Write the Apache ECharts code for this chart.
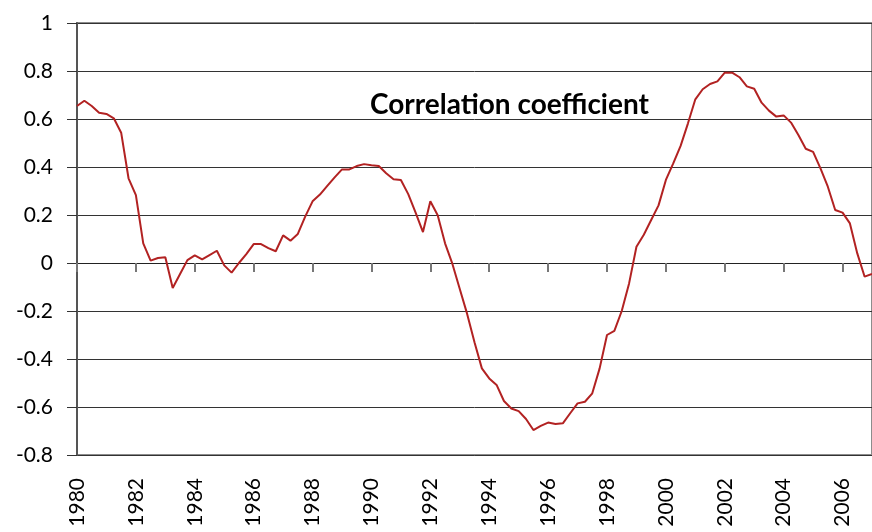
<!DOCTYPE html>
<html lang="en">
  <head>
    <meta charset="UTF-8" />
    <title>Correlation coefficient</title>
    <script src="https://cdn.jsdelivr.net/npm/echarts@6.0.0/dist/echarts.min.js"></script>
    <style>
      body {
        margin: 0;
        padding: 0;
        background: #fff;
      }
      #chart {
        width: 872px;
        height: 532px;
      }
    </style>
  </head>
  <body>
    <div id="chart"></div>

    <script>
      // quarterly, 1980 Q1 .. 2007 Q1
      var firstYear = 1980;
      var lastYear = 2007;
      var quarters = [];
      for (var y = firstYear; y <= lastYear; y++) {
        for (var q = 1; q <= 4; q++) {
          if (y === lastYear && q > 1) break;
          quarters.push(y + 'Q' + q);
        }
      }

      var corr1980s = [
        0.654, 0.676, 0.654, 0.626, 0.621, 0.603, 0.543, 0.353,
        0.283, 0.082, 0.010, 0.021, 0.024, -0.104, -0.046, 0.012,
        0.032, 0.015, 0.033, 0.051, -0.010, -0.040, 0.000, 0.037,
        0.079, 0.079, 0.062, 0.049, 0.115, 0.093, 0.121, 0.193,
        0.257, 0.285, 0.321, 0.357, 0.390, 0.390, 0.404, 0.412
      ];
      var corr1990s = [
        0.407, 0.404, 0.374, 0.349, 0.346, 0.287, 0.210, 0.129,
        0.257, 0.199, 0.082, -0.004, -0.108, -0.212, -0.330, -0.439,
        -0.481, -0.508, -0.575, -0.606, -0.617, -0.650, -0.696, -0.679,
        -0.665, -0.671, -0.668, -0.626, -0.585, -0.578, -0.543, -0.439,
        -0.300, -0.283, -0.200, -0.085, 0.068, 0.118, 0.179, 0.240
      ];
      var corr2000s = [
        0.346, 0.415, 0.488, 0.582, 0.682, 0.724, 0.746, 0.757,
        0.793, 0.793, 0.774, 0.736, 0.726, 0.668, 0.635, 0.610,
        0.615, 0.585, 0.533, 0.476, 0.463, 0.394, 0.318, 0.221,
        0.210, 0.165, 0.040, -0.057, -0.046
      ];
      var correlation = corr1980s.concat(corr1990s, corr2000s);

      var font = 'Lato, "DejaVu Sans", sans-serif';

      var chart = echarts.init(document.getElementById('chart'));
      var option = {
        animation: false,
        title: {
          text: 'Correlation coefficient',
          left: 370,
          top: 91,
          padding: 0,
          textStyle: {
            fontFamily: font,
            fontSize: 28,
            fontWeight: 'bold',
            color: '#000'
          }
        },
        grid: {
          left: 77,
          right: 0,
          top: 23,
          bottom: 77,
          show: true,
          borderColor: '#8c8c8c',
          borderWidth: 2
        },
        xAxis: [
          {
            // axis on the zero line, ticks only
            type: 'category',
            data: quarters,
            boundaryGap: false,
            position: 'bottom',
            axisLine: { onZero: true, lineStyle: { color: '#222', width: 1 } },
            axisTick: { interval: 7, length: 9, lineStyle: { color: '#777', width: 2 } },
            axisLabel: { show: false },
            splitLine: { show: false }
          },
          {
            // labels along the bottom
            type: 'category',
            data: quarters,
            boundaryGap: false,
            position: 'bottom',
            axisLine: { show: false, onZero: false },
            axisTick: { show: false },
            axisLabel: {
              interval: 7,
              rotate: 90,
              margin: 23,
              fontFamily: font,
              fontSize: 21,
              color: '#000',
              formatter: function (v) { return v.slice(0, 4); }
            },
            splitLine: { show: false }
          }
        ],
        yAxis: {
          type: 'value',
          min: -0.8,
          max: 1,
          interval: 0.2,
          axisLine: { show: true, lineStyle: { color: '#555', width: 2 } },
          axisTick: { show: true, length: 10, lineStyle: { color: '#333' } },
          axisLabel: {
            margin: 24,
            fontFamily: font,
            fontSize: 21,
            color: '#000'
          },
          splitLine: { lineStyle: { color: '#333', width: 1 } }
        },
        series: [
          {
            type: 'line',
            xAxisIndex: 0,
            data: correlation,
            symbol: 'none',
            lineStyle: { color: '#b22222', width: 2 },
            itemStyle: { color: '#b22222' }
          }
        ]
      };
      chart.setOption(option);
    </script>
  </body>
</html>
